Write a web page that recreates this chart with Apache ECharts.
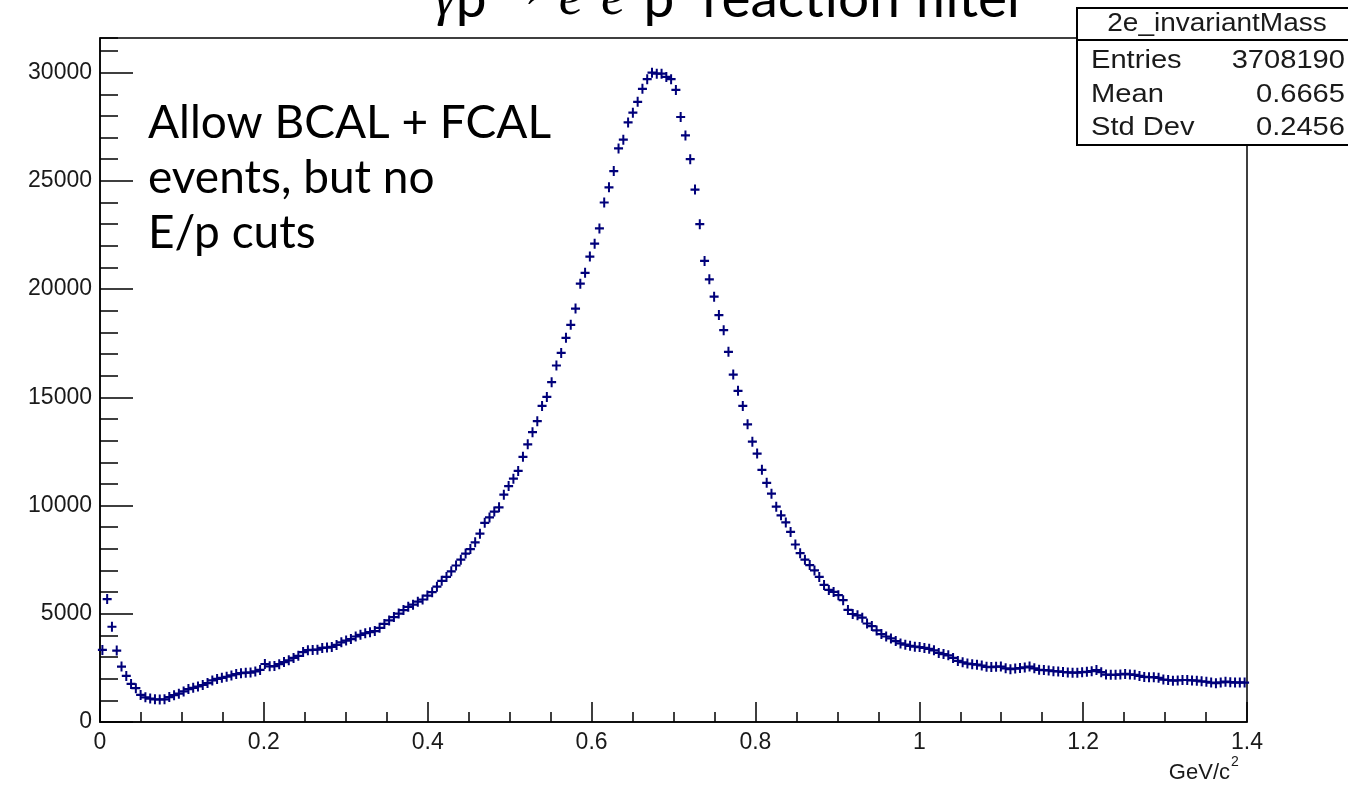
<!DOCTYPE html>
<html><head><meta charset="utf-8">
<script src="https://cdn.jsdelivr.net/npm/echarts@6/dist/echarts.min.js"></script>
<style>html,body{margin:0;padding:0;background:#fff}#c{width:1348px;height:791px}</style>
</head><body><div id="c"></div>
<script>
// Histogram "2e_invariantMass": 240 bins from 0 to 1.4 GeV/c^2
const histLow = 0;
const histHigh = 1.4;
const counts = [
3330,5680,4400,3300,2560,2130,1760,1560,1250,1140,
1080,1050,1040,1050,1150,1240,1310,1410,1520,1580,
1640,1710,1800,1920,1990,2040,2090,2150,2215,2255,
2280,2285,2335,2405,2680,2570,2585,2670,2770,2850,
2960,3060,3230,3320,3330,3340,3420,3440,3470,3560,
3680,3760,3830,3950,4030,4100,4150,4200,4350,4530,
4690,4850,5010,5170,5320,5420,5560,5660,5840,6000,
6250,6520,6700,6960,7230,7500,7780,7990,8300,8700,
9200,9450,9720,9920,10500,10900,11240,11600,12250,12830,
13390,13900,14600,15020,15700,16470,17050,17750,18350,19100,
20250,20750,21500,22100,22800,24000,24700,25450,26500,26900,
27700,28150,28650,29250,29700,30000,29950,29950,29800,29700,
29200,27950,27100,26000,24600,23000,21300,20450,19650,18800,
18100,17100,16050,15300,14600,13750,12950,12400,11650,11050,
10550,9950,9550,9220,8780,8200,7800,7500,7250,7000,
6700,6330,6100,6010,5860,5630,5180,4990,4930,4820,
4550,4430,4230,4060,3950,3860,3740,3630,3570,3520,
3480,3460,3420,3380,3310,3190,3140,3080,2960,2820,
2760,2700,2670,2650,2610,2550,2540,2555,2560,2480,
2440,2470,2490,2520,2560,2480,2410,2400,2380,2350,
2335,2310,2290,2280,2280,2300,2320,2350,2400,2300,
2190,2180,2180,2200,2220,2200,2180,2130,2080,2070,
2070,2040,1960,1940,1910,1920,1940,1940,1920,1910,
1880,1860,1820,1790,1830,1865,1840,1820,1830,1820
];
const xTickLabels = ['0','0.2','0.4','0.6','0.8','1','1.2','1.4'];
const yTickLabels = ['0','5000','10000','15000','20000','25000','30000'];
const statsNames = ['Entries','Mean','Std Dev'];
const statsValues = ['3708190','0.6665','0.2456'];
const histName = '2e_invariantMass';
const xTitle = 'GeV/c';
const xTitleSup = '2';
const annotationLines = ['Allow BCAL + FCAL','events, but no','E/p cuts'];

const binW = (histHigh - histLow) / counts.length;
const points = counts.map((v, i) => [histLow + (i + 0.5) * binW, v]);

const chart = echarts.init(document.getElementById('c'), null, {renderer:'canvas'});
const black = '#000';
const labelFont = 'Liberation Sans';
const txtCol = '#1a1a1a';
const sx = 1.12;
const option = {
  animation: false,
  backgroundColor: '#fff',
  grid: {left:100, right:101, top:38, bottom:69, show:true, borderColor:black, borderWidth:1.5, backgroundColor:'transparent'},
  xAxis: [{
    type:'value', min:0, max:1.4, interval:0.2,
    axisLine:{show:true, onZero:false, lineStyle:{color:black, width:1.5}},
    axisTick:{show:true, inside:true, length:20, lineStyle:{color:black, width:1.5}},
    minorTick:{show:true, splitNumber:4, length:10, lineStyle:{color:black, width:1.5}},
    splitLine:{show:false}, minorSplitLine:{show:false},
    axisLabel:{color:txtCol, fontSize:23, fontFamily:labelFont, margin:9,
      formatter:(v)=>{const k=Math.round(v/0.2); return xTickLabels[k]!==undefined?xTickLabels[k]:'';}}
  }],
  yAxis: [{
    type:'value', min:0, max:31600, interval:5000, position:'left',
    axisLine:{show:true, onZero:false, lineStyle:{color:black, width:1.5}},
    axisTick:{show:true, inside:true, length:33, lineStyle:{color:black, width:1.5}},
    splitLine:{show:false},
    axisLabel:{color:txtCol, fontSize:23, fontFamily:labelFont, margin:8, showMaxLabel:false,
      formatter:(v)=>{const k=Math.round(v/5000); return (Math.abs(v-k*5000)<1 && yTickLabels[k]!==undefined)?yTickLabels[k]:'';}}
  },{
    type:'value', min:0, max:31600, interval:1000, position:'left', offset:0,
    axisLine:{show:false},
    axisTick:{show:true, inside:true, length:18, lineStyle:{color:black, width:1.5}},
    splitLine:{show:false}, axisLabel:{show:false}
  }],
  series: [{
    type:'scatter', xAxisIndex:0, yAxisIndex:0, data:points,
    symbol:'path://M3.5,0h2v3.5h3.5v2h-3.5v3.5h-2v-3.5h-3.5v-2h3.5z', symbolSize:[9,10],
    itemStyle:{color:'#00007a', opacity:1}, silent:true
  }],
  graphic: [
    {type:'text', left:434, top:-28, z:10, style:{
      text:'{i|γ}{n|p }{a|→}{n| }{i|e}{s|+}{i|e}{s|−}{n|p  reaction filter}',
      rich:{
        i:{fontFamily:'Liberation Serif', fontStyle:'italic', fontSize:55, fill:black},
        n:{fontFamily:'Lato', fontSize:55, fill:black},
        a:{fontFamily:'Liberation Serif', fontSize:44, fill:black, verticalAlign:'top'},
        s:{fontFamily:'Liberation Serif', fontSize:32, fill:black, verticalAlign:'top'}
      }}},
    {type:'text', left:148, top:96, z:10, style:{
      text: annotationLines.join('\n'), fontFamily:'Lato', fontSize:46, lineHeight:55, fill:black}},
    {type:'group', z:20, children:[
      {type:'rect', shape:{x:1077, y:8, width:300, height:137}, style:{fill:'#fff', stroke:black, lineWidth:2}},
      {type:'line', shape:{x1:1077, y1:40, x2:1348, y2:40}, style:{stroke:black, lineWidth:2}},
      {type:'text', x:1217, y:24, scaleX:sx, style:{x:0, y:0, text:histName, fontFamily:labelFont, fontSize:25, fill:txtCol, align:'center', verticalAlign:'middle'}},
      ...statsNames.map((n,k)=>({type:'text', x:1091, y:61+k*33.5, scaleX:sx, style:{x:0, y:0, text:n, fontFamily:labelFont, fontSize:26, fill:txtCol, align:'left', verticalAlign:'middle'}})),
      ...statsValues.map((n,k)=>({type:'text', x:1345, y:61+k*33.5, scaleX:sx, style:{x:0, y:0, text:n, fontFamily:labelFont, fontSize:26, fill:txtCol, align:'right', verticalAlign:'middle'}}))
    ]},
    {type:'text', z:10, x:1230, y:773, style:{x:0, y:0, text:xTitle, align:'right', verticalAlign:'middle', fontFamily:labelFont, fontSize:22, fill:txtCol}},
    {type:'text', z:10, x:1231, y:762, style:{x:0, y:0, text:xTitleSup, align:'left', verticalAlign:'middle', fontFamily:labelFont, fontSize:14, fill:txtCol}}
  ]
};
chart.setOption(option);
</script>
</body></html>
